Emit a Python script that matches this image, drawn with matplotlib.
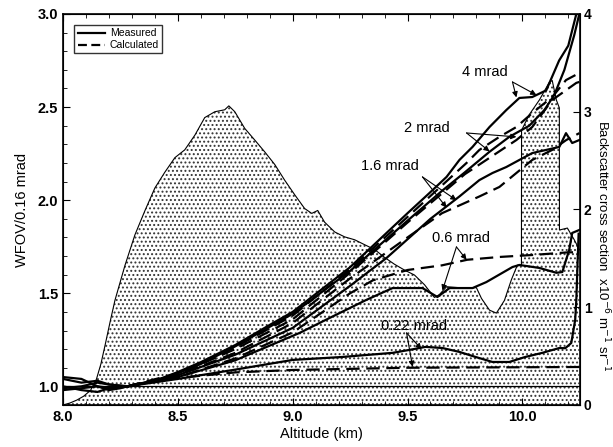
import matplotlib
matplotlib.use("Agg")
import matplotlib.pyplot as plt
from matplotlib.ticker import MultipleLocator

plt.rcParams["font.family"] = ["Liberation Sans", "DejaVu Sans"]
plt.rcParams["hatch.linewidth"] = 0.9

# backscatter cross section (right axis, x1e-6 m^-1 sr^-1)
bs_alt = [8.0, 8.03, 8.06, 8.09, 8.12, 8.145, 8.165, 8.183, 8.205, 8.226, 8.27, 8.313, 8.357,
          8.4, 8.443, 8.487, 8.53, 8.574, 8.617, 8.661, 8.704, 8.722, 8.748, 8.791, 8.835,
          8.878, 8.922, 8.965, 9.009, 9.052, 9.083, 9.109, 9.139, 9.183, 9.226, 9.27, 9.313,
          9.357, 9.4, 9.443, 9.487, 9.53, 9.574, 9.617, 9.639, 9.67, 9.726, 9.8, 9.822,
          9.857, 9.887, 9.922, 9.952, 9.978, 9.996, 9.9965, 10.03, 10.074, 10.117, 10.13,
          10.148, 10.161, 10.1615, 10.196, 10.226, 10.248]
bs_val = [0.0, 0.02, 0.05, 0.09, 0.15, 0.26, 0.42, 0.61, 0.85, 1.07, 1.43, 1.74, 1.99,
          2.22, 2.38, 2.53, 2.61, 2.76, 2.94, 3.0, 3.02, 3.06, 3.0, 2.83, 2.71,
          2.59, 2.46, 2.30, 2.15, 2.01, 1.96, 1.99, 1.87, 1.77, 1.72, 1.69, 1.64,
          1.59, 1.51, 1.44, 1.38, 1.33, 1.23, 1.10, 1.13, 1.21, 1.20, 1.20, 1.09,
          0.97, 0.94, 1.07, 1.28, 1.43, 1.43, 2.81, 2.97, 3.12, 3.30, 3.32,
          3.12, 3.04, 1.79, 1.81, 1.69, 1.59]

# measured WFOV / 0.16 mrad
m4_alt = [8.0, 8.08, 8.15, 8.2, 8.25, 8.28, 8.4, 8.5, 8.6, 8.75, 8.9, 9.0, 9.25, 9.5, 9.596,
          9.67, 9.726, 9.783, 9.857, 9.93, 9.987, 10.043, 10.104, 10.16, 10.2, 10.235]
m4_val = [1.05, 1.04, 1.0, 0.98, 0.99, 1.0, 1.03, 1.077, 1.13, 1.222, 1.33, 1.40, 1.64, 1.93, 2.039,
          2.125, 2.216, 2.286, 2.393, 2.484, 2.549, 2.554, 2.59, 2.75, 2.83, 3.0]

m2_alt = [8.0, 8.08, 8.15, 8.2, 8.28, 8.4, 8.5, 8.6, 8.75, 8.9, 9.0, 9.25, 9.5, 9.65, 9.75,
          9.857, 9.943, 10.03, 10.096, 10.139, 10.183, 10.226, 10.248]
m2_val = [1.04, 1.02, 1.03, 1.01, 1.0, 1.03, 1.07, 1.12, 1.215, 1.32, 1.39, 1.62, 1.89, 2.05, 2.15,
          2.26, 2.34, 2.40, 2.484, 2.565, 2.70, 2.887, 3.0]

m16_alt = [8.0, 8.08, 8.15, 8.2, 8.28, 8.5, 8.75, 9.0, 9.25, 9.409, 9.6, 9.726, 9.813, 9.87,
           9.93, 9.987, 10.043, 10.104, 10.161, 10.19, 10.217, 10.248]
m16_val = [0.99, 1.0, 1.02, 1.01, 1.0, 1.06, 1.17, 1.314, 1.54, 1.69, 1.90, 2.02, 2.108, 2.146,
           2.178, 2.216, 2.253, 2.27, 2.286, 2.36, 2.307, 2.323]

m06_alt = [8.0, 8.08, 8.15, 8.2, 8.28, 8.5, 8.75, 9.03, 9.17, 9.32, 9.435, 9.565, 9.63, 9.683,
           9.783, 9.843, 9.957, 9.987, 10.074, 10.148, 10.174, 10.204, 10.217, 10.248]
m06_val = [1.0, 0.98, 0.97, 0.99, 1.0, 1.05, 1.14, 1.287, 1.373, 1.464, 1.528, 1.528, 1.48, 1.528,
           1.528, 1.56, 1.641, 1.652, 1.636, 1.61, 1.614, 1.733, 1.824, 1.84]

m022_alt = [8.0, 8.08, 8.15, 8.22, 8.28, 8.5, 8.75, 9.0, 9.217, 9.435, 9.509, 9.578, 9.652,
            9.726, 9.796, 9.87, 9.943, 10.013, 10.087, 10.161, 10.187, 10.213, 10.23, 10.235,
            10.24, 10.245]
m022_val = [0.98, 0.99, 1.0, 0.99, 1.0, 1.04, 1.09, 1.142, 1.158, 1.18, 1.196, 1.212, 1.206,
            1.185, 1.158, 1.131, 1.131, 1.158, 1.18, 1.206, 1.205, 1.233, 1.357, 1.464,
            1.65, 1.82]

# calculated
c4_alt = [8.28, 8.5, 8.75, 9.0, 9.25, 9.5, 9.757, 9.813, 9.9, 9.974, 10.043, 10.13, 10.19, 10.248]
c4_val = [1.0, 1.07, 1.21, 1.38, 1.63, 1.91, 2.2, 2.27, 2.34, 2.393, 2.468, 2.554, 2.645, 2.683]

c2_alt = [8.28, 8.5, 8.75, 9.0, 9.25, 9.5, 9.75, 9.974, 10.043, 10.13, 10.235, 10.248]
c2_val = [1.0, 1.065, 1.2, 1.36, 1.61, 1.88, 2.14, 2.323, 2.393, 2.538, 2.63, 2.635]

c16_alt = [8.28, 8.5, 8.75, 9.0, 9.25, 9.5, 9.65, 9.813, 9.9, 9.974, 10.043, 10.13, 10.191, 10.248]
c16_val = [1.0, 1.06, 1.18, 1.34, 1.58, 1.80, 1.93, 2.02, 2.071, 2.146, 2.216, 2.27, 2.323, 2.36]

c06_alt = [8.28, 8.5, 8.75, 9.0, 9.25, 9.35, 9.5, 9.65, 9.76, 9.9, 10.05, 10.2, 10.25]
c06_val = [1.0, 1.05, 1.15, 1.29, 1.50, 1.57, 1.625, 1.65, 1.68, 1.695, 1.706, 1.72, 1.72]

c022_alt = [8.28, 8.5, 8.75, 9.0, 9.5, 10.25]
c022_val = [1.0, 1.045, 1.075, 1.088, 1.10, 1.104]

# labels: text, text position, arrow start, arrow targets
labels = [
    ("4 mrad", (9.835, 2.69), (9.957, 2.635), [(9.974, 2.552), (10.061, 2.565)]),
    ("2 mrad", (9.583, 2.39), (9.757, 2.361), [(9.974, 2.34), (9.857, 2.262)]),
    ("1.6 mrad", (9.422, 2.184), (9.565, 2.125), [(9.67, 1.96), (9.713, 2.0)]),
    ("0.6 mrad", (9.735, 1.797), (9.713, 1.749), [(9.652, 1.515), (9.757, 1.68)]),
    ("0.22 mrad", (9.53, 1.324), (9.496, 1.287), [(9.561, 1.20), (9.522, 1.105)]),
]

fig = plt.figure(figsize=(6.13, 4.47), dpi=100)
ax = fig.add_axes([0.1028, 0.094, 0.843, 0.8747])
ax2 = ax.twinx()

ax2.fill_between(bs_alt, 0, bs_val, facecolor="white", edgecolor="#333333",
                 hatch="....", linewidth=0, zorder=0)
ax2.plot(bs_alt, bs_val, color="k", lw=0.8)
ax2.set_ylim(0, 4)
ax2.set_yticks([0, 1, 2, 3, 4])
ax2.tick_params(axis="y", direction="in", length=5, labelsize=10, pad=3)
for t in ax2.get_yticklabels():
    t.set_fontweight("bold")
# right-axis title placed by hand: the reference crops it at the figure edge
fig.text(0.984, 0.45, r"Backscatter cross section  x10$^{-6}$ m$^{-1}$ sr$^{-1}$",
         rotation=-90, fontsize=9.5, ha="center", va="center")

ax.set_zorder(ax2.get_zorder() + 1)
ax.patch.set_visible(False)

ax.axhline(1.0, color="k", lw=0.9)
lw = 1.6
dash = (6, 3)
for a, v in [(m4_alt, m4_val), (m2_alt, m2_val), (m16_alt, m16_val),
             (m06_alt, m06_val), (m022_alt, m022_val)]:
    ax.plot(a, v, color="k", lw=lw, solid_joinstyle="round")
for a, v in [(c4_alt, c4_val), (c2_alt, c2_val), (c16_alt, c16_val),
             (c06_alt, c06_val), (c022_alt, c022_val)]:
    ax.plot(a, v, color="k", lw=lw, dashes=dash)

for txt, tpos, start, targets in labels:
    ax.text(tpos[0], tpos[1], txt, ha="center", va="center", fontsize=10.5)
    for tgt in targets:
        ax.annotate("", xy=tgt, xytext=start,
                    arrowprops=dict(arrowstyle="-|>", lw=0.8, color="k",
                                    mutation_scale=8, shrinkA=0, shrinkB=0))

h1, = ax.plot([], [], color="k", lw=lw, label="Measured")
h2, = ax.plot([], [], color="k", lw=lw, dashes=(4, 2), label="Calculated")
leg = ax.legend(handles=[h1, h2], loc="upper left", bbox_to_anchor=(0.012, 0.985),
                fontsize=7.5, frameon=True, fancybox=False, handlelength=2.6,
                borderpad=0.3, labelspacing=0.2, handletextpad=0.5)
leg.get_frame().set_edgecolor("k")
leg.get_frame().set_linewidth(1.0)

ax.set_xlim(8.0, 10.25)
ax.set_ylim(0.9, 3.0)
ax.xaxis.set_major_locator(MultipleLocator(0.5))
ax.xaxis.set_minor_locator(MultipleLocator(0.1))
ax.yaxis.set_major_locator(MultipleLocator(0.5))
ax.yaxis.set_minor_locator(MultipleLocator(0.1))
ax.xaxis.set_major_formatter(plt.FormatStrFormatter("%.1f"))
ax.yaxis.set_major_formatter(plt.FormatStrFormatter("%.1f"))
ax.tick_params(which="both", direction="in", top=True, labelsize=10.5)
ax.tick_params(which="major", length=5)
ax.tick_params(which="minor", length=3)
for t in ax.get_xticklabels() + ax.get_yticklabels():
    t.set_fontweight("bold")
for s in ax.spines.values():
    s.set_linewidth(1.2)
ax.set_xlabel("Altitude (km)", fontsize=10.5, labelpad=2)
ax.set_ylabel("WFOV/0.16 mrad", fontsize=10.5, labelpad=6)

fig.savefig("out.png", dpi=100)
